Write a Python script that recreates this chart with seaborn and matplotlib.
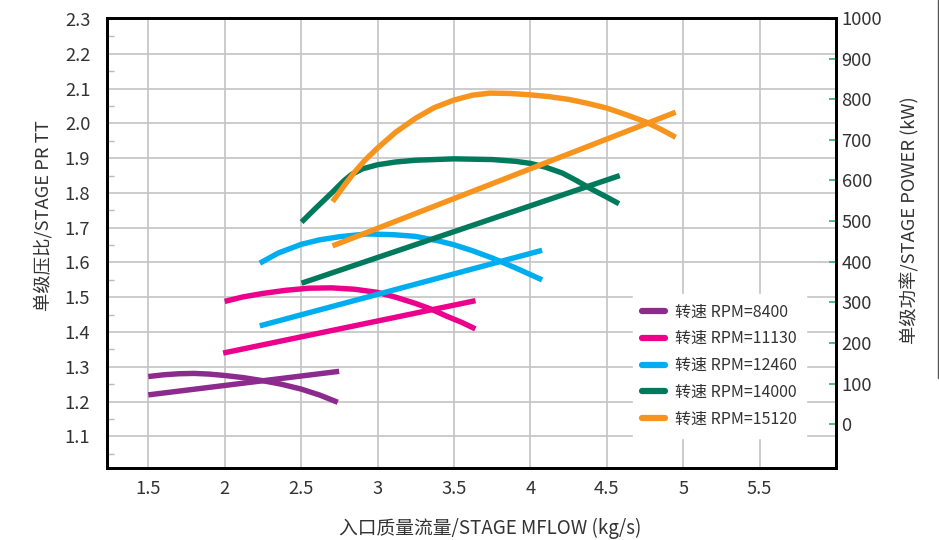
import numpy as np
import pandas as pd
import seaborn as sns
import matplotlib.pyplot as plt
from matplotlib.lines import Line2D
from matplotlib.ticker import MultipleLocator

# speed lines (labels + colours)
speeds = ["转速 RPM=8400", "转速 RPM=11130", "转速 RPM=12460", "转速 RPM=14000", "转速 RPM=15120"]
colors = ["#8C2A8E", "#EC008C", "#00AEEF", "#007A5C", "#F7941D"]

# pressure ratio curves (left axis)
pr_8400_x = [1.5, 1.6, 1.7, 1.8, 1.9, 2.0, 2.12, 2.25, 2.37, 2.5, 2.62, 2.74]
pr_8400_y = [1.272, 1.277, 1.280, 1.281, 1.279, 1.275, 1.269, 1.260, 1.250, 1.236, 1.219, 1.198]
pr_11130_x = [2.0, 2.12, 2.25, 2.4, 2.55, 2.7, 2.85, 3.0, 3.12, 3.25, 3.35, 3.45, 3.55, 3.64]
pr_11130_y = [1.488, 1.501, 1.511, 1.520, 1.526, 1.527, 1.523, 1.514, 1.500, 1.482, 1.466, 1.446, 1.428, 1.409]
pr_12460_x = [2.23, 2.35, 2.5, 2.62, 2.75, 2.93, 3.1, 3.25, 3.4, 3.5, 3.62, 3.75, 3.9, 4.077]
pr_12460_y = [1.598, 1.627, 1.652, 1.665, 1.674, 1.682, 1.680, 1.675, 1.662, 1.651, 1.634, 1.613, 1.585, 1.550]
pr_14000_x = [2.503, 2.6, 2.7, 2.78, 2.83, 2.9, 3.0, 3.12, 3.25, 3.5, 3.75, 3.9, 4.0, 4.1, 4.21, 4.3, 4.4, 4.5, 4.58]
pr_14000_y = [1.716, 1.758, 1.800, 1.835, 1.853, 1.869, 1.881, 1.889, 1.894, 1.898, 1.896, 1.891, 1.885,
              1.874, 1.857, 1.836, 1.811, 1.788, 1.769]
pr_15120_x = [2.706, 2.78, 2.85, 2.92, 3.0, 3.12, 3.25, 3.37, 3.5, 3.62, 3.735, 3.87, 4.0, 4.12, 4.25,
              4.37, 4.5, 4.62, 4.75, 4.85, 4.951]
pr_15120_y = [1.775, 1.820, 1.860, 1.895, 1.929, 1.975, 2.015, 2.045, 2.067, 2.081, 2.087, 2.086, 2.082,
              2.077, 2.069, 2.058, 2.044, 2.026, 2.005, 1.984, 1.960]

# stage power lines (right axis, kW)
pw_8400_x = [1.5, 2.749]
pw_8400_y = [72, 130]
pw_11130_x = [1.99, 3.641]
pw_11130_y = [175, 304]
pw_12460_x = [2.23, 4.077]
pw_12460_y = [242, 428]
pw_14000_x = [2.503, 4.585]
pw_14000_y = [347, 612]
pw_15120_x = [2.706, 4.951]
pw_15120_y = [439, 768]

pr_x = [pr_8400_x, pr_11130_x, pr_12460_x, pr_14000_x, pr_15120_x]
pr_y = [pr_8400_y, pr_11130_y, pr_12460_y, pr_14000_y, pr_15120_y]
pw_x = [pw_8400_x, pw_11130_x, pw_12460_x, pw_14000_x, pw_15120_x]
pw_y = [pw_8400_y, pw_11130_y, pw_12460_y, pw_14000_y, pw_15120_y]

pr_df = pd.concat([pd.DataFrame({"flow": x, "val": y, "speed": s})
                   for x, y, s in zip(pr_x, pr_y, speeds)], ignore_index=True)
pw_df = pd.concat([pd.DataFrame({"flow": x, "val": y, "speed": s})
                   for x, y, s in zip(pw_x, pw_y, speeds)], ignore_index=True)

sns.set_theme(style="white")
plt.rcParams["font.family"] = ["Noto Sans CJK SC", "DejaVu Sans"]

fig = plt.figure(figsize=(9.39, 5.40), dpi=100)
ax = fig.add_axes([107 / 939, 72 / 540, 729 / 939, 450 / 540])
ax2 = ax.twinx()

palette = dict(zip(speeds, colors))
sns.lineplot(data=pr_df, x="flow", y="val", hue="speed", palette=palette, sort=False,
             estimator=None, linewidth=3.9, ax=ax, legend=False)
sns.lineplot(data=pw_df, x="flow", y="val", hue="speed", palette=palette, sort=False,
             estimator=None, linewidth=3.9, ax=ax2, legend=False)
for ln in ax.lines + ax2.lines:
    ln.set_solid_capstyle("butt")
    ln.set_solid_joinstyle("round")

ax.set_xlim(1.23, 6.0)
ax.set_ylim(1.009, 2.303)
ax2.set_ylim(-108, 1000)

ax.set_xticks([1.5, 2, 2.5, 3, 3.5, 4, 4.5, 5, 5.5])
ax.set_xticklabels(["1.5", "2", "2.5", "3", "3.5", "4", "4.5", "5", "5.5"])
ax.set_yticks(np.round(np.arange(1.1, 2.31, 0.1), 1))
ax.yaxis.set_minor_locator(MultipleLocator(0.05))
ax2.set_yticks(range(0, 1001, 100))

ax.grid(True, which="major", color="#C4C4C4", linewidth=1.2)
ax.set_axisbelow(True)

ax.tick_params(axis="x", length=0, pad=9, labelsize=13.2, labelcolor="#333333")
ax.tick_params(axis="y", which="major", direction="in", length=0, pad=12,
               labelsize=13.2, labelcolor="#333333")
ax.tick_params(axis="y", which="minor", direction="in", length=5, width=1, color="#BBBBBB", left=True)
ax2.tick_params(axis="y", direction="in", length=5, width=1.2, color="#2DB36B", pad=4,
                labelsize=13.2, labelcolor="#333333")

for a in (ax, ax2):
    for side in ["left", "right", "top", "bottom"]:
        a.spines[side].set_color("black")
        a.spines[side].set_linewidth(2)

ax.set_xlabel("入口质量流量/STAGE MFLOW (kg/s)", fontsize=13.5, color="#333333")
ax.xaxis.set_label_coords(0.525, -0.11)
ax.set_ylabel("单级压比/STAGE PR TT", fontsize=13.2, color="#333333")
ax.yaxis.set_label_coords(-0.075, 0.56)
ax2.set_ylabel("单级功率/STAGE POWER (kW)", fontsize=13.2, color="#333333")
ax2.yaxis.set_label_coords(1.088, 0.55)

handles = [Line2D([0], [0], color=c, linewidth=4.5) for c in colors]
leg = ax2.legend(handles, speeds, loc="lower left", bbox_to_anchor=(0.71, 0.05),
                 frameon=True, fancybox=False, framealpha=1, edgecolor="white",
                 facecolor="white", fontsize=11.5, handlelength=1.45, handletextpad=0.6,
                 labelspacing=0.62, borderpad=0.6)
for t in leg.get_texts():
    t.set_color("#333333")

# thin page border at the right edge
fig.add_artist(Line2D([0.9985, 0.9985], [1 - 378 / 540, 1], color="#555555", linewidth=1))

fig.savefig("out.png", dpi=100)
